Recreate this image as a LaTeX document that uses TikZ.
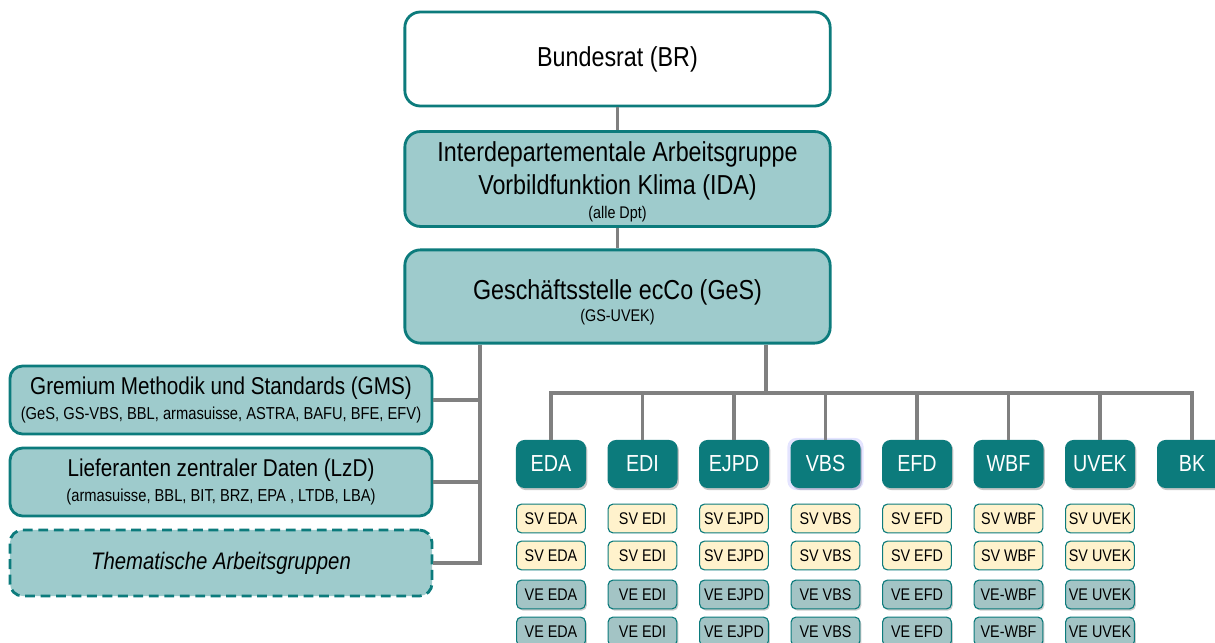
\documentclass[tikz,border=0pt]{standalone}
\usepackage{fontspec}
\setmainfont{Liberation Sans}[FakeStretch=0.85]
\usepackage{tikz}
\usetikzlibrary{positioning, shadows}
\definecolor{tealdark}{RGB}{12, 123, 124}
\definecolor{teallight}{RGB}{158, 203, 204}
\definecolor{cream}{RGB}{255, 242, 204}
\definecolor{vegray}{RGB}{163, 196, 197}
\definecolor{linegray}{RGB}{128, 128, 128}
\newcommand{\subtext}[1]{{\fontsize{12}{14}\selectfont #1}}
\newcommand{\sidesub}[1]{{\fontsize{12.3}{14}\selectfont #1}}
\tikzset{
    topbox/.style={rectangle, rounded corners=11pt, minimum width=10.63cm, minimum height=2.35cm, align=center, draw=tealdark, line width=2pt, fill=teallight, font=\fontsize{19.5}{23}\selectfont},
    sidebox/.style={rectangle, rounded corners=9pt, minimum width=10.55cm, minimum height=1.7cm, align=center, draw=tealdark, line width=2pt, fill=teallight, font=\fontsize{17.3}{20}\selectfont},
    deptbox/.style={rectangle, rounded corners=6pt, minimum width=1.75cm, minimum height=1.2cm, fill=tealdark, text=white, font=\fontsize{16.5}{19}\selectfont, drop shadow={shadow xshift=1pt, shadow yshift=-1.5pt, opacity=0.45}},
    glowbox/.style={general shadow={shadow scale=1.09, fill=blue!35, opacity=0.3}},
    svbox/.style={rectangle, rounded corners=3.5pt, minimum width=1.72cm, minimum height=0.72cm, inner sep=1pt, draw=tealdark, line width=0.8pt, fill=cream, font=\fontsize{12}{13}\selectfont},
    vebox/.style={svbox, fill=vegray, drop shadow={shadow xshift=1pt, shadow yshift=-1.2pt, opacity=0.4}},
    conn/.style={linegray, line width=2.4pt}
}
\begin{document}
\begin{tikzpicture}[x=0.025cm, y=-0.025cm]
    \useasboundingbox (0,0) rectangle (1215,643);
    % top hierarchy
    \node[topbox, fill=white] (br) at (617.5,59) {Bundesrat (BR)};
    \node[topbox] (ida) at (617.5,179) {\mbox{}\\[-4.7pt] Interdepartementale Arbeitsgruppe\\ Vorbildfunktion Klima (IDA)\\[-6pt] \subtext{(alle Dpt)}};
    \node[topbox, minimum height=2.33cm] (ges) at (617.5,296.5) {\mbox{}\\[-0.4pt] Geschäftsstelle ecCo (GeS)\\[-7pt] \subtext{(GS-UVEK)}};
    \draw[conn] (br) -- (ida);
    \draw[conn] (ida) -- (ges);
    % left column
    \node[sidebox] (gms) at (221,400) {Gremium Methodik und Standards (GMS)\\[-2.5pt] \sidesub{(GeS, GS-VBS, BBL, armasuisse, ASTRA, BAFU, BFE, EFV)}};
    \node[sidebox] (lzd) at (221,482) {Lieferanten zentraler Daten (LzD)\\[-2.5pt] \sidesub{(armasuisse, BBL, BIT, BRZ, EPA , LTDB, LBA)}};
    \node[sidebox, minimum height=1.65cm, dash pattern=on 7pt off 4pt, font=\fontsize{17}{20}\selectfont\itshape] (tag) at (221,563) {Thematische Arbeitsgruppen};
    \coordinate (lbus) at (480,563);
    \draw[conn] (ges.south -| lbus) -- (lbus) -- (tag.east);
    \draw[conn] (gms.east) -- (gms.east -| lbus);
    \draw[conn] (lzd.east) -- (lzd.east -| lbus);
    % departments
    \coordinate (dbus) at (766,393);
    \foreach \d/\ve [count=\i] in {EDA/VE EDA, EDI/VE EDI, EJPD/VE EJPD, VBS/VE VBS, EFD/VE EFD, WBF/VE-WBF, UVEK/VE UVEK} {
        \ifnum\i=4 \tikzset{deptglow/.style={glowbox}}\else \tikzset{deptglow/.style={}}\fi
        \node[deptbox, deptglow] (\d) at (551+91.5*\i-91.5,464) {\d};
        \node[svbox] (sv1-\i) at (551+91.5*\i-91.5,518.5) {SV \d};
        \node[svbox] (sv2-\i) at (551+91.5*\i-91.5,555.5) {SV \d};
        \node[vebox] (ve1-\i) at (551+91.5*\i-91.5,594.5) {\ve};
        \node[vebox] (ve2-\i) at (551+91.5*\i-91.5,631.5) {\ve};
        \draw[conn] (\d.north) -- (\d.north |- dbus);
    }
    \node[deptbox] (BK) at (1192,464) {BK};
    \draw[conn] (ges.south -| dbus) -- (dbus);
    \draw[conn] (EDA.north) |- (dbus) -| (BK.north);
\end{tikzpicture}
\end{document}
